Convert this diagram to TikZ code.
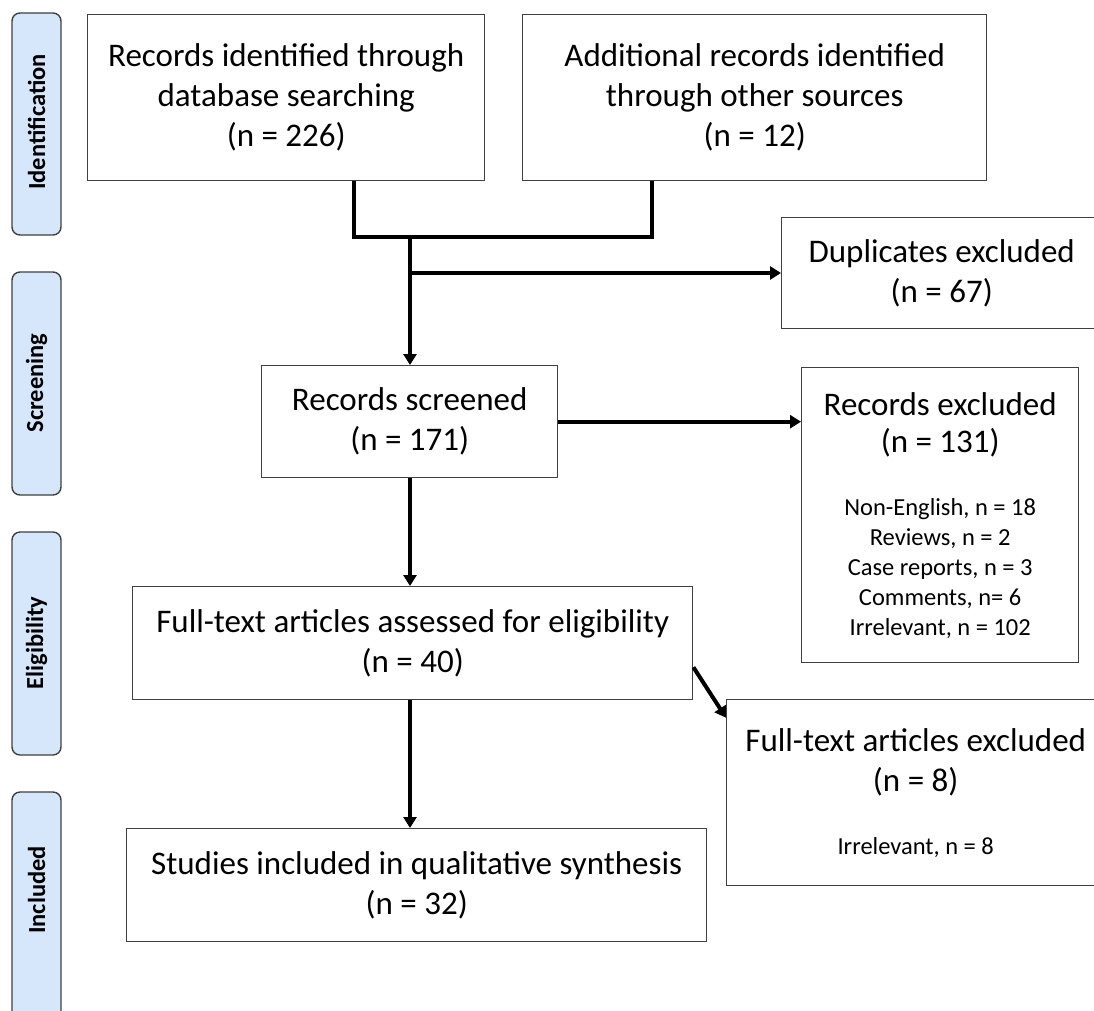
\documentclass[tikz,border=0pt]{standalone}
\usepackage{fontspec}
\setmainfont{Carlito}
\usetikzlibrary{arrows.meta,calc}
\definecolor{sidefill}{RGB}{214,230,251}
\definecolor{edgegray}{RGB}{64,64,64}
\newcommand{\mainsz}{\fontsize{33}{40}\selectfont}
\newcommand{\smallsz}{\fontsize{24.5}{30}\selectfont}
\newcommand{\sidesz}{\fontsize{24.5}{30}\selectfont}
\begin{document}
\begin{tikzpicture}[x=1pt,y=-1pt,
  box/.style={draw=edgegray, line width=1.4pt, rectangle, anchor=north west,
    inner sep=0pt, align=center, font={\mainsz\lineskiplimit=-100pt}, text=black},
  smallbox/.style={box, font={\smallsz\lineskiplimit=-100pt}},
  sidebar/.style={draw=edgegray, fill=sidefill, line width=1.4pt, rounded corners=8pt},
  sidelabel/.style={rotate=90, font=\sidesz\bfseries, text=black},
  conn/.style={line width=4pt, draw=black},
  arr/.style={conn, -{Triangle[length=11pt,width=13pt]}}
]
\clip (0,0) rectangle (1094,1010);
\fill[white] (0,0) rectangle (1094,1010);

% phase side bars
\draw[sidebar] (12,13) rectangle (61,235);
\draw[sidebar] (12,272) rectangle (61,495);
\draw[sidebar] (12,532) rectangle (61,755);
\draw[sidebar] (12,792) rectangle (61,1040);
\node[sidelabel] (lid) at (36.5,122) {Identification};
\node[sidelabel] (lsc) at (36.5,383) {Screening};
\node[sidelabel] (lel) at (36.5,643) {Eligibility};
\node[sidelabel] (lin) at (36.5,890) {Included};

% boxes
\node[box, minimum width=397pt, minimum height=166pt] (b1) at (87,14)
  {Records identified through\\database searching\\(n = 226)};
\node[box, minimum width=464pt, minimum height=166pt] (b2) at (522,14)
  {Additional records identified\\through other sources\\(n = 12)};
\node[box, minimum width=320pt, minimum height=111pt] (dup) at (781,217)
  {Duplicates excluded\\(n = 67)};
\node[box, minimum width=296pt, minimum height=112pt] (scr) at (261,365)
  {Records screened\\(n = 171)};
\node[smallbox, minimum width=277pt, minimum height=295pt] (rex) at (801,367)
  {{\mainsz Records excluded}\\[7pt]{\mainsz (n = 131)}\\[33pt]Non-English, n = 18\\Reviews, n = 2\\Case reports, n = 3\\Comments, n= 6\\Irrelevant, n = 102};
\node[box, minimum width=560pt, minimum height=113pt] (ft) at (132,586)
  {Full-text articles assessed for eligibility\\(n = 40)};
\node[smallbox, minimum width=378pt, minimum height=186pt] (ftx) at (726,699)
  {{\mainsz Full-text articles excluded}\\[10pt]{\mainsz (n = 8)}\\[33pt]Irrelevant, n = 8};
\node[box, minimum width=580pt, minimum height=113pt] (st) at (126,828)
  {Studies included in qualitative synthesis\\(n = 32)};

% connectors
\coordinate (m1) at (354,237);
\coordinate (m2) at (652,237);
\coordinate (j) at (410,237);
\coordinate (br) at (410,273);
\draw[conn] (m1 |- b1.south) -- (m1) -- (m2) -- (m2 |- b2.south);
\draw[arr] (j) -- (j |- scr.north);
\draw[arr] (br) -- (br -| dup.west);
\draw[arr] (scr.east) -- (scr.east -| rex.west);
\draw[arr] (j |- scr.south) -- (j |- ft.north);
\draw[arr] ($(ft.north east)!0.71!(ft.south east)$) -- ($(ftx.north west)!0.1!(ftx.south west)$);
\draw[arr] (j |- ft.south) -- (j |- st.north);
\end{tikzpicture}
\end{document}
